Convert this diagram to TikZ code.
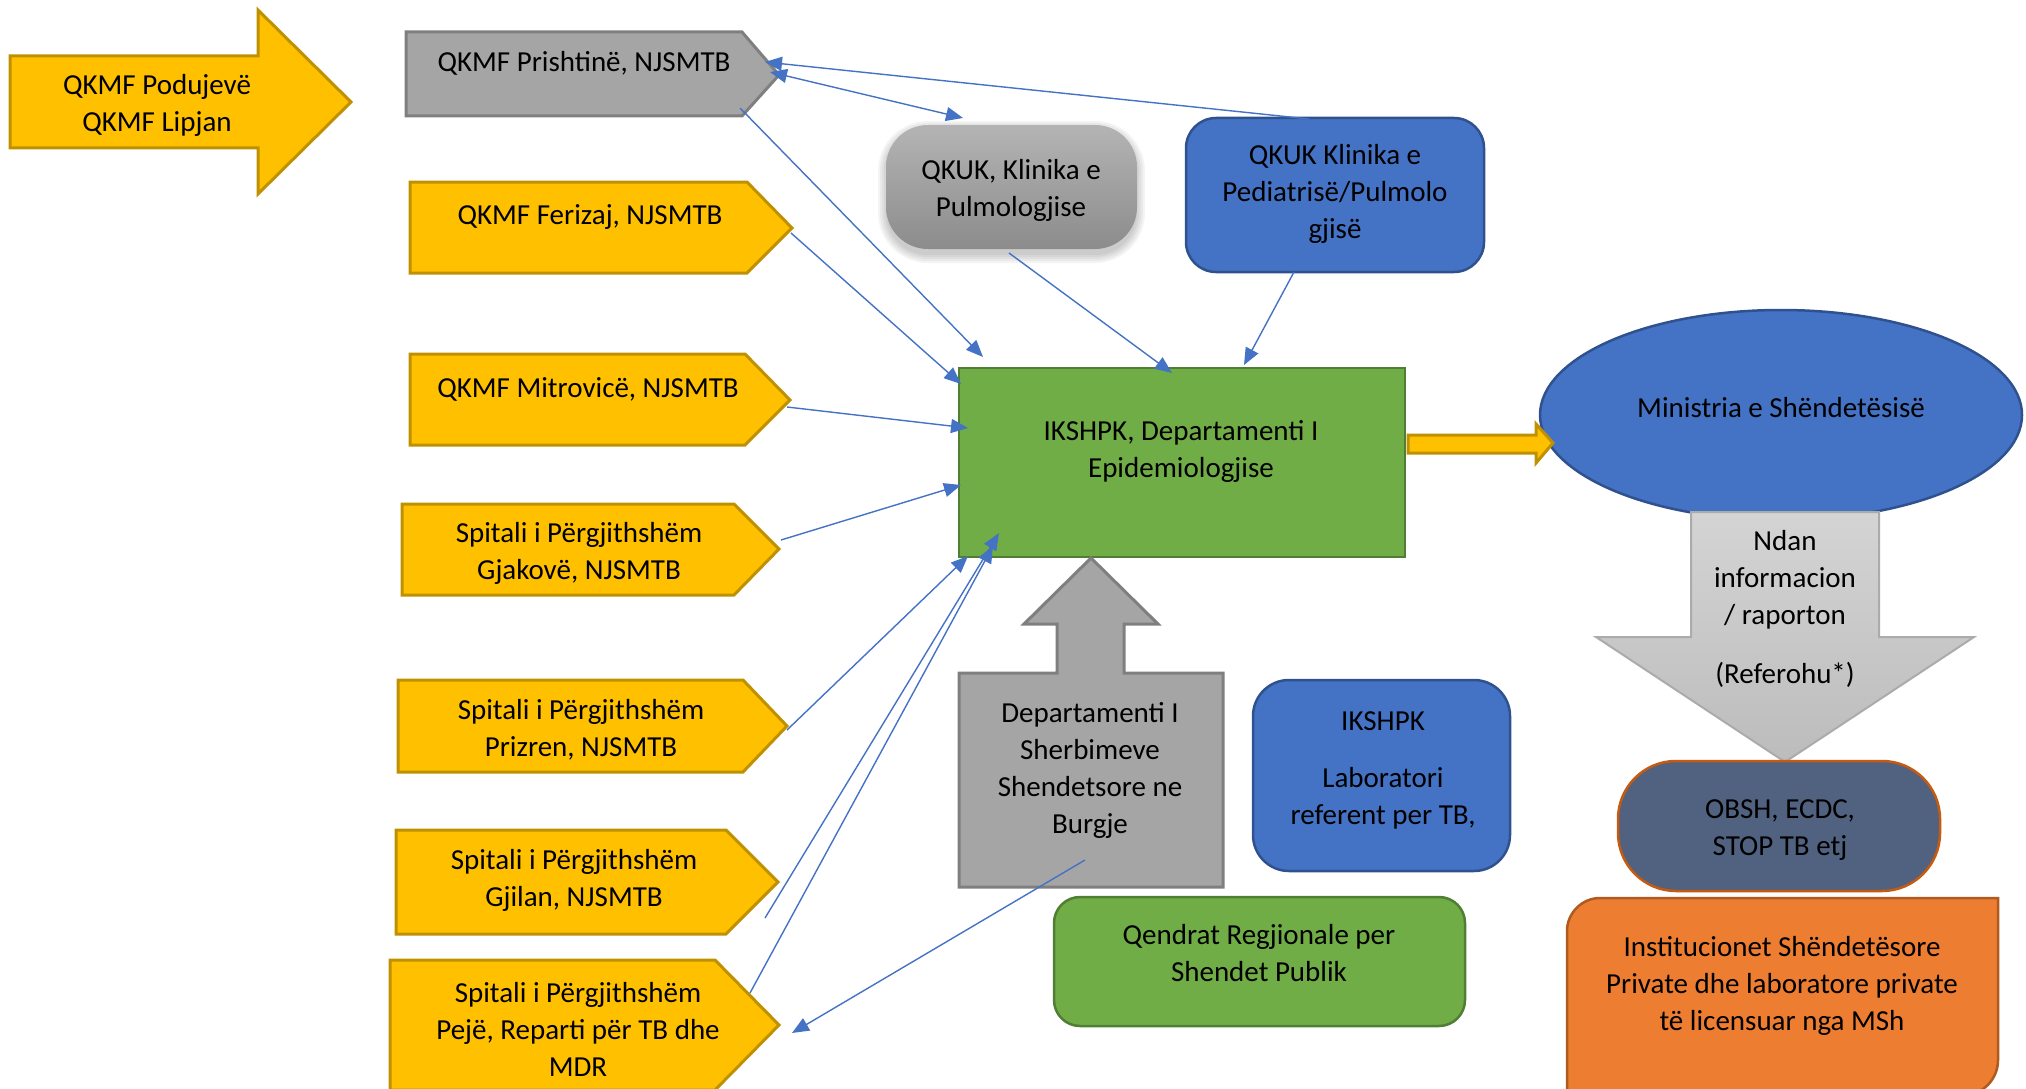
\documentclass[tikz,border=0pt]{standalone}
\usepackage{fontspec}
\setmainfont{Carlito}
\usetikzlibrary{arrows.meta}

\definecolor{ygold}{HTML}{FFC000}
\definecolor{ygoldline}{HTML}{BF9000}
\definecolor{gfill}{HTML}{A5A5A5}
\definecolor{gline}{HTML}{7F7F7F}
\definecolor{bfill}{HTML}{4472C4}
\definecolor{bline}{HTML}{2F528F}
\definecolor{grfill}{HTML}{70AD47}
\definecolor{grline}{HTML}{507E32}
\definecolor{slate}{HTML}{50627F}
\definecolor{oline}{HTML}{C55A11}
\definecolor{ofill}{HTML}{ED7D31}
\definecolor{oedge}{HTML}{AE5A21}
\definecolor{linkblue}{HTML}{4472C4}
\definecolor{qtop}{HTML}{B4B4B4}
\definecolor{qbot}{HTML}{8C8C8C}
\definecolor{dtop}{HTML}{D4D4D4}
\definecolor{dbot}{HTML}{BCBCBC}
\definecolor{dline}{HTML}{ABABAB}

\tikzset{
  lbl/.style={font=\fontsize{29}{37}\selectfont, align=center, inner sep=0pt, text=black},
  yshape/.style={fill=ygold, draw=ygoldline, line width=3pt, line join=miter},
  gshape/.style={fill=gfill, draw=gline, line width=3pt, line join=miter},
  bshape/.style={fill=bfill, draw=bline, line width=2.5pt},
  grshape/.style={fill=grfill, draw=grline, line width=2.5pt},
  link/.style={draw=linkblue, line width=1.4pt, -{Triangle[length=17pt,width=14pt]}},
  duallink/.style={draw=linkblue, line width=1.4pt, {Triangle[length=17pt,width=14pt]}-{Triangle[length=17pt,width=14pt]}},
}

\begin{document}
\begin{tikzpicture}[x=1pt,y=-1pt]
\useasboundingbox (0,0) rectangle (2026,1089);

% ---- large arrow on the left
\draw[yshape] (10,56) -- (258,56) -- (258,10) -- (351,102) -- (258,194) -- (258,148) -- (10,148) -- cycle;
\node[lbl] (podujeve) at (157,105) {QKMF Podujevë\\QKMF Lipjan};

% ---- regional units (pentagons)
\draw[gshape] (406,32) -- (742,32) -- (779,75) -- (742,116) -- (406,116) -- cycle;
\node[lbl] (prishtine) at (584,63) {QKMF Prishtinë, NJSMTB};

\draw[yshape] (410,182) -- (747,182) -- (792,228) -- (747,273) -- (410,273) -- cycle;
\node[lbl] (ferizaj) at (590,217) {QKMF Ferizaj, NJSMTB};

\draw[yshape] (410,354) -- (745,354) -- (790,400) -- (745,445) -- (410,445) -- cycle;
\node[lbl] (mitrovice) at (588,389) {QKMF Mitrovicë, NJSMTB};

\draw[yshape] (402,504) -- (734,504) -- (779,549) -- (734,595) -- (402,595) -- cycle;
\node[lbl] (gjakove) at (579,553) {Spitali i Përgjithshëm\\Gjakovë, NJSMTB};

\draw[yshape] (398,680) -- (743,680) -- (787,726) -- (743,772) -- (398,772) -- cycle;
\node[lbl] (prizren) at (581,730) {Spitali i Përgjithshëm\\Prizren, NJSMTB};

\draw[yshape] (396,830) -- (726,830) -- (778,882) -- (726,934) -- (396,934) -- cycle;
\node[lbl] (gjilan) at (574,880) {Spitali i Përgjithshëm\\Gjilan, NJSMTB};

\draw[yshape] (390,960) -- (715,960) -- (779,1025) -- (715,1090) -- (390,1090) -- cycle;
\node[lbl] (peje) at (578,1029) {Spitali i Përgjithshëm\\Pejë, Reparti për TB dhe\\MDR};

% ---- university clinics
% soft shadow built from a few faint layers
\foreach \g in {0,2,4,6,8}
  \fill[black, opacity=0.045, rounded corners=42+\g]
    (886-\g,129-\g) rectangle (1137+\g,255+\g);
\path[top color=qtop, bottom color=qbot, rounded corners=42] (886,125) rectangle (1137,249);
\node[lbl] (pulmo) at (1011,190) {QKUK, Klinika e\\Pulmologjise};

\draw[bshape, rounded corners=30] (1186,118) rectangle (1484,272);
\node[lbl] (pediatri) at (1335,194) {QKUK Klinika e\\Pediatrisë/Pulmolo\\gjisë};

% ---- central institute
\draw[grshape] (959,368) rectangle (1405,557);
\node[lbl] (ikshpk) at (1181,451) {IKSHPK, Departamenti I\\Epidemiologjise};

% ---- ministry
\draw[bshape] (1781,415) ellipse [x radius=241, y radius=105];
\node[lbl] (ministria) at (1781,408) {Ministria e Shëndetësisë};

% arrow from the institute to the ministry
\draw[yshape] (1408,435) -- (1536,435) -- (1536,424) -- (1553,443) -- (1536,463) -- (1536,453) -- (1408,453) -- cycle;

% ---- reporting arrow below the ministry
\path[top color=dtop, bottom color=dbot, draw=dline, line width=2pt, line join=miter]
  (1691,512) -- (1879,512) -- (1879,637) -- (1974,637) -- (1785,762) -- (1596,637) -- (1691,637) -- cycle;
\node[lbl] (ndan) at (1785,580) {Ndan\\informacion\\/ raporton};
\node[lbl] (referohu) at (1785,675) {(Referohu*)};

% ---- international partners
\draw[fill=slate, draw=oline, line width=2.5pt, rounded corners=58] (1618,761) rectangle (1940,891);
\node[lbl] (obsh) at (1780,830) {OBSH, ECDC,\\STOP TB etj};

% ---- private institutions
\draw[fill=ofill, draw=oedge, line width=2.5pt]
  (1567,1100) -- (1567,931) .. controls (1567,913) and (1582,898) .. (1600,898)
  -- (1998,898) -- (1998,1060) .. controls (1998,1079) and (1983,1095) .. (1964,1095)
  -- (1567,1095) -- cycle;
\node[lbl] (privat) at (1782,986) {Institucionet Shëndetësore\\Private dhe laboratore private\\të licensuar nga MSh};

% ---- prison health services (up arrow callout)
\draw[gshape] (959,887) -- (959,673) -- (1057,673) -- (1057,624) -- (1024,624) -- (1091,558)
  -- (1158,624) -- (1124,624) -- (1124,673) -- (1223,673) -- (1223,887) -- cycle;
\node[lbl] (burgje) at (1090,770) {Departamenti I\\Sherbimeve\\Shendetsore ne\\Burgje};

% ---- reference laboratory
\draw[bshape, rounded corners=36] (1253,680) rectangle (1510,871);
\node[lbl] (labhead) at (1383,721) {IKSHPK};
\node[lbl] (lab) at (1383,798) {Laboratori\\referent per TB,};

% ---- regional public health centres
\draw[grshape, rounded corners=26] (1054,897) rectangle (1465,1026);
\node[lbl] (qendrat) at (1259,953) {Qendrat Regjionale per\\Shendet Publik};

% ---- connector end points
\coordinate (pedTop) at (1309,119);
\coordinate (prishA) at (765,62);
\coordinate (prishB) at (770,72);
\coordinate (pulmoTop) at (963,118);
\coordinate (prishOut) at (740,108);
\coordinate (ikA) at (983,357);
\coordinate (ferOut) at (791,233);
\coordinate (ikB) at (961,384);
\coordinate (mitOut) at (787,407);
\coordinate (ikC) at (968,428);
\coordinate (gjaOut) at (781,540);
\coordinate (ikD) at (961,485);
\coordinate (priOut) at (787,730);
\coordinate (ikE) at (968,556);
\coordinate (gjiOut) at (765,918);
\coordinate (ikF) at (999,533);
\coordinate (pejOut) at (750,993);
\coordinate (ikG) at (993,546);
\coordinate (burgOut) at (1085,860);
\coordinate (pejIn) at (792,1033);
\coordinate (pulmoOut) at (1009,253);
\coordinate (ikH) at (1172,373);
\coordinate (pedOut) at (1294,272);
\coordinate (ikI) at (1244,365);

% ---- connectors
\draw[link] (pedTop) -- (prishA);
\draw[duallink] (prishB) -- (pulmoTop);
\draw[link] (prishOut) -- (ikA);
\draw[link] (ferOut) -- (ikB);
\draw[link] (mitOut) -- (ikC);
\draw[link] (gjaOut) -- (ikD);
\draw[link] (priOut) -- (ikE);
\draw[link] (gjiOut) -- (ikF);
\draw[link] (pejOut) -- (ikG);
\draw[link] (burgOut) -- (pejIn);
\draw[link] (pulmoOut) -- (ikH);
\draw[link] (pedOut) -- (ikI);
\end{tikzpicture}
\end{document}
